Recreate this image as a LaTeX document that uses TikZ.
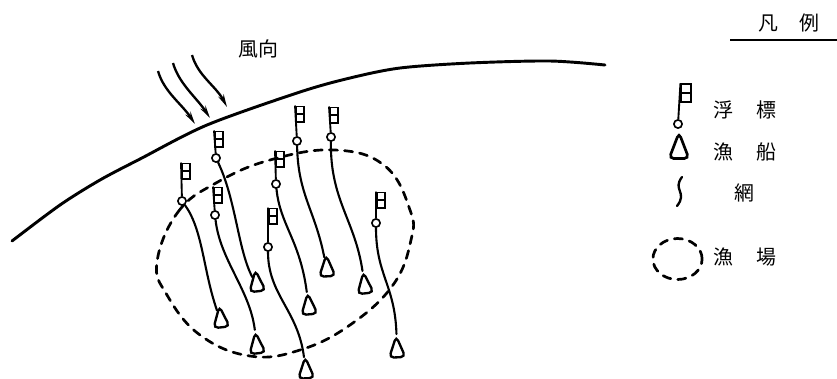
\documentclass[tikz,border=0pt]{standalone}
\usepackage{fontspec}
\newfontfamily\cjk{Noto Sans CJK JP}
\usetikzlibrary{arrows.meta, shapes.geometric}

\begin{document}
\begin{tikzpicture}[x=0.03cm,y=-0.03cm,>={Stealth[length=11pt,width=5pt]},
        ring/.style={circle,draw,line width=1.4pt,inner sep=0pt,minimum size=7pt},
        flagbox/.style={rectangle,draw,line width=1.5pt,inner sep=0pt,minimum width=7pt,minimum height=#1,
            path picture={\draw[line width=1.5pt] (path picture bounding box.west) -- (path picture bounding box.east);}},
        flagbox/.default=13pt,
        boat/.style={isosceles triangle,isosceles triangle apex angle=42,shape border rotate=90,draw,line width=2pt,
            rounded corners=4pt,inner sep=1pt,minimum height=18pt},
        net/.style={line width=1.8pt,line cap=round},
        stem/.style={line width=1.6pt},
        coast/.style={line width=2.5pt,line cap=round},
        wind/.style={->,line width=2pt},
        fishery/.style={line width=2.3pt,dash pattern=on 7pt off 6pt,line cap=round},
        label/.style={font=\cjk\fontsize{17}{17}\selectfont,inner sep=0pt}]

        \useasboundingbox (0,0) rectangle (837,378);

        % coast and wind
        \draw[coast] plot[smooth,tension=0.5] coordinates {(12,241) (60,205) (100,180) (140,159) (207,125)
                (300,92) (350,78) (400,68) (470,63) (550,61) (605,65)};
        \node[label] (windlabel) at (258,49) {風向};

        \coordinate (w1a) at (158,71); \coordinate (w1b) at (195,124);
        \coordinate (w2a) at (173,63); \coordinate (w2b) at (210,118);
        \coordinate (w3a) at (192,55); \coordinate (w3b) at (227,107);
        \draw[wind] (w1a) .. controls (164,92) and (182,104) .. (w1b);
        \draw[wind] (w2a) .. controls (179,84) and (197,98) .. (w2b);
        \draw[wind] (w3a) .. controls (198,76) and (216,86) .. (w3b);

        % fishing ground
        \draw[fishery] plot[smooth cycle,tension=0.7] coordinates {(157,262) (178,212) (216,183) (270,160)
                (335,150) (385,166) (410,210) (411,240) (393,285) (350,325) (300,350) (250,356) (200,335) (167,295)};

        % floats, flags and boats
        \foreach \name/\rx/\ry/\fx/\fy/\bx/\by/\ang in {1/182/201/186/171/221/322/6, 2/216/158/219/139/257/286/6,
                3/215/215/218/195/257/348/6, 4/297/141/300/114/327/271/3, 5/331/137/334/115/365/288/6,
                6/276/184/280/159/309/309/5, 7/268/247/273/216/306/373/3, 8/376/223/381/200/397/352/3}
        {
            \node[ring] (float\name) at (\rx,\ry) {};
            \node[flagbox] (flag\name) at (\fx,\fy) {};
            \node[boat,rotate=\ang] (boat\name) at (\bx,\by) {};
            \draw[stem] (float\name) -- (flag\name.north west);
        }

        \draw[net] (float1) .. controls (203,230) and (203,270) .. (boat1);
        \draw[net] (float2) .. controls (236,200) and (238,250) .. (boat2);
        \draw[net] (float3) .. controls (220,260) and (250,290) .. (boat3);
        \draw[net] (float4) .. controls (298,195) and (315,210) .. (boat4);
        \draw[net] (float5) .. controls (330,200) and (355,220) .. (boat5);
        \draw[net] (float6) .. controls (280,225) and (300,240) .. (boat6);
        \draw[net] (float7) .. controls (268,295) and (298,310) .. (boat7);
        \draw[net] (float8) .. controls (376,275) and (395,285) .. (boat8);

        % legend
        \node[label] (legendtitle) at (789,23) {凡\hspace{1.1em}例};
        \coordinate (rulea) at (730,40); \coordinate (ruleb) at (837,40);
        \draw[line width=2pt] (rulea) -- (ruleb);

        \node[ring] (keyfloat) at (678,124) {};
        \node[flagbox=15pt,minimum width=8pt] (keyflag) at (686,93) {};
        \draw[stem] (keyfloat) -- (keyflag.north west);
        \node[boat,minimum height=22pt,line width=2.3pt] (keyboat) at (679,152) {};
        \coordinate (keyneta) at (682,177); \coordinate (keynetb) at (677,206);
        \draw[net,line width=2pt] (keyneta) .. controls (672,190) and (688,192) .. (keynetb);
        \node[ellipse,draw,fishery,inner sep=0pt,minimum width=42pt,minimum height=35pt] (keyground) at (677.5,259) {};

        \node[label] (keyfloattext) at (745,110) {浮\hspace{1.15em}標};
        \node[label] (keyboattext) at (745,152) {漁\hspace{1.15em}船};
        \node[label] (keynettext) at (744,193) {網};
        \node[label] (keygroundtext) at (745,257) {漁\hspace{1.15em}場};
    \end{tikzpicture}
\end{document}
